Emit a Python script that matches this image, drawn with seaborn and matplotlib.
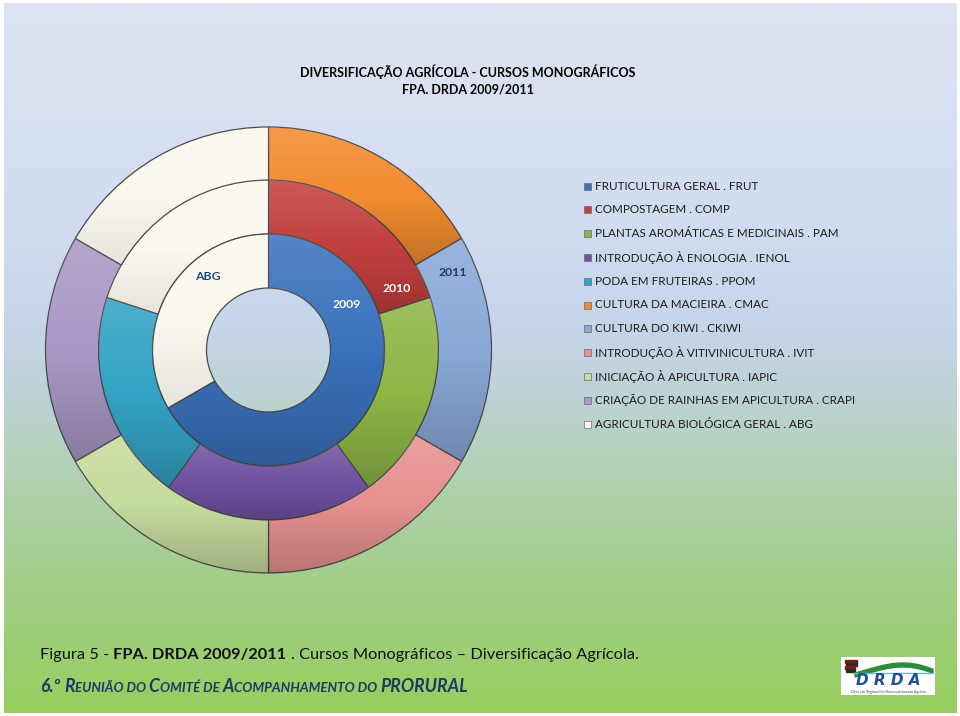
import numpy as np
import matplotlib
matplotlib.use("Agg")
import matplotlib.pyplot as plt
import seaborn as sns
from matplotlib.colors import LinearSegmentedColormap
from matplotlib.patches import Rectangle, Polygon

# ---------------- data ----------------
categories = [
    "FRUTICULTURA GERAL . FRUT",
    "COMPOSTAGEM . COMP",
    "PLANTAS AROMÁTICAS E MEDICINAIS . PAM",
    "INTRODUÇÃO À ENOLOGIA . IENOL",
    "PODA EM FRUTEIRAS . PPOM",
    "CULTURA DA MACIEIRA . CMAC",
    "CULTURA DO KIWI . CKIWI",
    "INTRODUÇÃO À VITIVINICULTURA . IVIT",
    "INICIAÇÃO À APICULTURA . IAPIC",
    "CRIAÇÃO DE RAINHAS EM APICULTURA . CRAPI",
    "AGRICULTURA BIOLÓGICA GERAL . ABG",
]
years = ["2009", "2010", "2011"]
v2009 = [2, 0, 0, 0, 0, 0, 0, 0, 0, 0, 1]
v2010 = [0, 1, 1, 1, 1, 0, 0, 0, 0, 0, 1]
v2011 = [0, 0, 0, 0, 0, 1, 1, 1, 1, 1, 1]
ring_labels = ["ABG", "2009", "2010", "2011"]

colors = ["#3A72BC", "#C2403E", "#8DB646", "#7052A0", "#33A3C4", "#F28C30",
          "#8AA9D8", "#E6918F", "#C6DB9E", "#AA98C6", "#FBF9EF"]

W, H = 960, 716
sns.set_theme(style="white")
plt.rcParams["font.family"] = ["Lato", "DejaVu Sans"]
palette = sns.color_palette(colors)

fig = plt.figure(figsize=(W / 100, H / 100), dpi=100, facecolor="white")

# ---------------- background gradient ----------------
bg = fig.add_axes([4 / W, 3 / H, 953 / W, 710 / H], zorder=-5)
stops = [(0.0, "#DDE4F3"), (0.3, "#D2DCF0"), (0.45, "#C6D5EA"), (0.55, "#BDD3D6"),
         (0.68, "#B0D0AE"), (0.82, "#A3CE88"), (1.0, "#96CF5E")]
cmap = LinearSegmentedColormap.from_list("bg", stops)
grad = np.linspace(0, 1, 512).reshape(-1, 1)
bg.imshow(grad, cmap=cmap, aspect="auto", extent=[0, 1, 0, 1], origin="upper")
bg.axis("off")

# ---------------- doughnut ----------------
cx, cy, R = 268.5, 350, 223
ax = fig.add_axes([(cx - R) / W, (H - cy - R) / H, 2 * R / W, 2 * R / H])
ax.set_facecolor("none")

radii = [1.0, 0.762, 0.52]
width = 0.242
shade = np.zeros((256, 1, 4))
t = np.linspace(0, 1, 256)
shade[:, 0, :3] = np.where(t[:, None] < 0.5, 1.0, 0.0)
shade[:, 0, 3] = np.where(t < 0.5, 0.14 * (1 - 2 * t), 0.2 * (2 * t - 1))

for vals, r in zip([v2011, v2010, v2009], radii):
    idx = [i for i, v in enumerate(vals) if v > 0]
    wedges, _ = ax.pie([vals[i] for i in idx], radius=r, colors=[palette[i] for i in idx],
                       startangle=90, counterclock=False,
                       wedgeprops=dict(width=width, edgecolor="#4a4a4a", linewidth=0.9))
    for w, i in zip(wedges, idx):
        ext = w.get_path().get_extents()
        sh = shade.copy()
        if i == len(categories) - 1:
            sh[:, 0, 3] *= 0.45
        im = ax.imshow(sh, extent=[ext.x0, ext.x1, ext.y0, ext.y1], origin="upper",
                       aspect="auto", zorder=w.get_zorder() + 0.5, interpolation="bilinear")
        im.set_clip_path(w)

ax.set_xlim(-1, 1)
ax.set_ylim(-1, 1)
ax.set_aspect("equal")
ax.axis("off")

lab_pos = [(208, 276), (347, 305), (397, 289), (453, 273)]
lab_col = ["#1F497D", "white", "white", "#1F3864"]
for s, (px, py), c in zip(ring_labels, lab_pos, lab_col):
    ax.text((px - cx) / R, (cy - py) / R, s, ha="center", va="center", fontsize=8.8,
            fontweight="bold", color=c, zorder=10)

# ---------------- title ----------------
fig.text(468 / W, 1 - 72 / H, "DIVERSIFICAÇÃO AGRÍCOLA - CURSOS MONOGRÁFICOS",
         ha="center", va="center", fontsize=9.0, fontweight="bold", color="black")
fig.text(468 / W, 1 - 89 / H, "FPA. DRDA 2009/2011",
         ha="center", va="center", fontsize=9.0, fontweight="bold", color="black")

# ---------------- legend ----------------
rows_y = np.linspace(186, 424, len(categories))
for i, (lab, y) in enumerate(zip(categories, rows_y)):
    fig.patches.append(Rectangle((584 / W, 1 - (y + 3.5) / H), 7 / W, 7 / H,
                                 transform=fig.transFigure, facecolor=palette[i],
                                 edgecolor="#6a6a6a", linewidth=0.5))
    fig.text(595 / W, 1 - y / H, lab, ha="left", va="center", fontsize=8.4, color="#1a1a1a")

# ---------------- footer ----------------
fig.canvas.draw()
renderer = fig.canvas.get_renderer()


def width_of(s, **kw):
    tt = fig.text(0, 0, s, **kw)
    w = tt.get_window_extent(renderer).width
    tt.remove()
    return w


def draw_runs(x, y, tokens):
    for s, kw in tokens:
        if s == "<gap>":
            x += width_of("a a", **kw) - width_of("aa", **kw)
            continue
        tt = fig.text(x / W, 1 - y / H, s, ha="left", va="baseline", **kw)
        x += tt.get_window_extent(renderer).width


n = dict(fontsize=11.8, color="#111111")
b = dict(fontsize=11.8, color="#111111", fontweight="bold")
draw_runs(40, 659, [("Figura 5 -", n), ("<gap>", n), ("FPA. DRDA 2009/2011", b), ("<gap>", n),
                    (". Cursos Monográficos – Diversificação Agrícola.", n)])

big = dict(fontsize=12.7, color="#1F3864", fontweight="bold", fontstyle="italic")
sml = dict(fontsize=9.6, color="#1F3864", fontweight="bold", fontstyle="italic")
draw_runs(40, 692, [("6.º", big), ("<gap>", big), ("R", big), ("EUNIÃO DO", sml), ("<gap>", sml),
                    ("C", big), ("OMITÉ DE", sml), ("<gap>", sml),
                    ("A", big), ("COMPANHAMENTO DO", sml), ("<gap>", sml), ("PRORURAL", big)])

# ---------------- logo ----------------
lg = fig.add_axes([841 / W, 1 - 695 / H, 94 / W, 38 / H])
lg.set_xlim(0, 94)
lg.set_ylim(0, 38)
lg.set_facecolor("white")
for sp in lg.spines.values():
    sp.set_visible(False)
lg.set_xticks([])
lg.set_yticks([])
for k, yy in enumerate([34, 31, 28, 25]):
    lg.add_patch(Rectangle((4 + k % 2, yy - 1.5), 12 - k, 2.2,
                           color="#7A1E12" if k % 2 == 0 else "#2a2a2a"))
xs = np.linspace(14, 92, 60)
top = 22 + 12 * np.sin(np.linspace(0, np.pi * 0.9, 60)) * np.linspace(0.6, 1, 60)
lg.add_patch(Polygon(np.column_stack([np.r_[xs, xs[::-1]], np.r_[top, (top - 4)[::-1]]]),
                     closed=True, color="#2E8B3A"))
lg.plot([12, 92], [22, 22], color="#6EB7E0", lw=1)
lg.text(47, 14.5, "D R D A", ha="center", va="center", fontsize=11, fontweight="heavy",
        fontstyle="italic", color="#1F4E9D", family="DejaVu Sans")
lg.text(47, 3.2, "Direcção Regional do Desenvolvimento Agrário", ha="center", va="center",
        fontsize=2.6, color="#444444")

fig.savefig("out.png", dpi=100, facecolor="white")
